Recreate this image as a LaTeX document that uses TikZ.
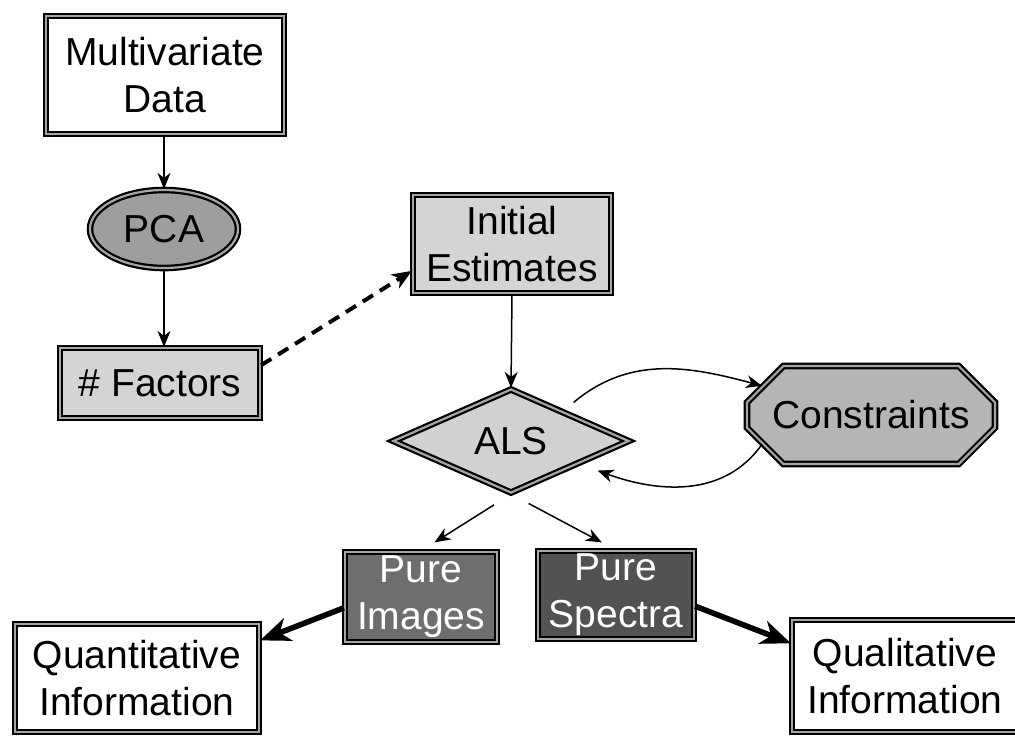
\documentclass[tikz,border=0pt]{standalone}
\usepackage{fontspec}
\setmainfont{Liberation Sans}
\usetikzlibrary{shapes.geometric,shapes.misc,arrows.meta,calc}

\tikzset{
  every node/.style={font=\fontsize{19.5}{23.5}\selectfont, align=center, inner sep=0pt},
  twoline/.style={draw=black, line width=1.1pt, double=gray!70, double distance=1.1pt},
  databox/.style={twoline, rectangle, fill=white},
  lightbox/.style={twoline, rectangle, fill=black!17},
  purebox/.style={twoline, rectangle, text=white},
  arr/.style={-{Stealth[length=8pt,width=6.5pt,inset=2.5pt]}, line width=0.75pt},
  fatarr/.style={-{Stealth[length=15pt,width=12pt,inset=4.5pt]}, line width=2.8pt},
}

\begin{document}
\begin{tikzpicture}[x=0.5pt,y=0.5pt]
\useasboundingbox (0,0) rectangle (1015,-736);

\node[databox, minimum width=119pt, minimum height=59pt] (data) at (165,-75) {Multivariate\\Data};
\node[twoline, ellipse, fill=black!38, minimum width=74pt, minimum height=39pt] (pca) at (164,-229) {PCA};
\node[lightbox, minimum width=100pt, minimum height=35pt] (nfac) at (160,-383) {\# Factors};
\node[lightbox, minimum width=99pt, minimum height=49pt] (init) at (512,-244) {Initial\\Estimates};
\node[twoline, diamond, fill=black!18, minimum width=118pt, minimum height=52pt] (als) at (511,-441) {ALS};
\node[twoline, chamfered rectangle, chamfered rectangle xsep=16pt, chamfered rectangle ysep=11pt,
      fill=black!29, minimum width=124pt, minimum height=49pt] (constr) at (871,-415) {Constraints};
\node[purebox, fill=black!57, minimum width=76pt, minimum height=45pt] (pimg) at (421,-597) {Pure\\Images};
\node[purebox, fill=black!68, minimum width=78pt, minimum height=44pt] (pspec) at (616,-595) {Pure\\Spectra};
\node[databox, minimum width=122pt, minimum height=54pt] (quant) at (137,-678) {Quantitative\\Information};
\node[databox, minimum width=113pt, minimum height=56pt] (qual) at (905,-676) {Qualitative\\Information};

\draw[arr] (pca.north |- data.south) -- (pca.north);
\draw[arr] (pca.south) -- (pca.south |- nfac.north);
\draw[-{Stealth[length=10pt,width=8pt,inset=3pt]}, line width=2pt, dash pattern=on 6pt off 4pt] (nfac.10) -- (init.195);
\draw[arr] (init.south) -- (als.north);
\draw[arr] ([xshift=1.5pt,yshift=6pt]als.north east) to[out=40,in=165] (constr.165);
\draw[arr] (constr.195) to[out=235,in=-20] ($(als.south east)+(13.5pt,-1.5pt)$);
\draw[arr, shorten <=10pt, shorten >=8pt] (als.south) -- (pimg.north);
\draw[arr, shorten <=10pt, shorten >=8pt] (als.south) -- (pspec.north);
\draw[fatarr] (pimg.188) -- (quant.17);
\draw[fatarr] (pspec.352) -- (qual.164);

\end{tikzpicture}
\end{document}
